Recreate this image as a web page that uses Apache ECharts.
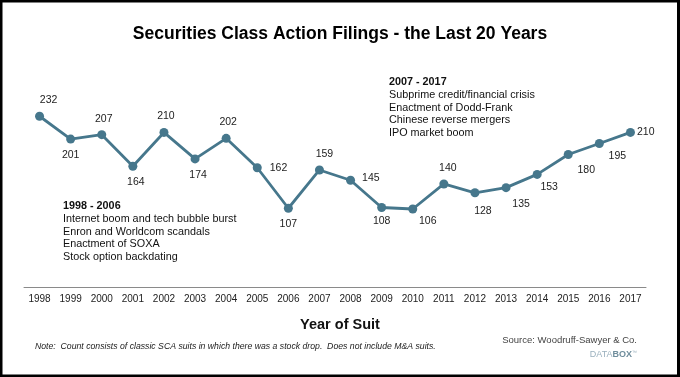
<!DOCTYPE html>
<html>
<head>
<meta charset="utf-8">
<script src="https://cdn.jsdelivr.net/npm/echarts@6/dist/echarts.min.js"></script>
<style>
html,body{margin:0;padding:0;background:#fff;}
#chart{width:680px;height:377px;}
</style>
</head>
<body>
<div id="chart"></div>
<script>
var years = ['1998','1999','2000','2001','2002','2003','2004','2005','2006','2007','2008','2009','2010','2011','2012','2013','2014','2015','2016','2017'];
var filings = [232,201,207,164,210,174,202,162,107,159,145,108,106,140,128,135,153,180,195,210];
var titleText = 'Securities Class Action Filings - the Last 20 Years';
var xAxisTitle = 'Year of Suit';
var era1 = ['1998 - 2006','Internet boom and tech bubble burst','Enron and Worldcom scandals','Enactment of SOXA','Stock option backdating'];
var era2 = ['2007 - 2017','Subprime credit/financial crisis','Enactment of Dodd-Frank','Chinese reverse mergers','IPO market boom'];
var noteText = 'Note:  Count consists of classic SCA suits in which there was a stock drop.  Does not include M&A suits.';
var sourceText = 'Source: Woodruff-Sawyer & Co.';

// label placement (style only): [position, dx, dy]
var labelPlace = [
  ['top',9,0],['bottom',0,0],['top',2,0],['bottom',3,0],['top',2,0],['bottom',3,0],['top',2,0],['right',2,0],
  ['bottom',0,0],['top',5,0],['right',1,-2],['bottom',0,-2],['bottom',15,-4],['top',4,0],['bottom',8,2],
  ['bottom',15,0],['bottom',12,-3],['bottom',18,0],['bottom',18,-3],['right',-4,0]
];

var FONT2 = "'Liberation Sans',Arial,sans-serif";
var lineColor = '#46778c';

var seriesData = filings.map(function(v,i){
  var p = labelPlace[i];
  return {value: v, label: {position: p[0], offset: [p[1], p[2]]}};
});

function textBlock(lines, x, y, lh){
  return lines.map(function(t,i){
    return {type:'text', left:x, top:y + i*lh, style:{text:t, fill:'#111', font:(i===0?'bold ':'')+'10.8px '+FONT2}};
  });
}

var graphics = [
  {type:'rect', shape:{x:0,y:0,width:680,height:377}, style:{fill:'none', stroke:'#000', lineWidth:5}, z:100},
  {type:'rect', shape:{x:677,y:0,width:3,height:377}, style:{fill:'#000'}, z:100},
  {type:'text', left:'center', top:317, style:{text:xAxisTitle, fill:'#111', font:'bold 14.5px '+FONT2}},
  {type:'text', left:35, top:342, style:{text:noteText, fill:'#222', font:'italic 8.7px '+FONT2}},
  {type:'text', right:43, top:335, style:{text:sourceText, fill:'#444', font:'9.5px '+FONT2, align:'right'}},
  {type:'text', right:43, top:350, style:{rich:{a:{fill:'#9ab0bd', font:'9px '+FONT2}, b:{fill:'#6f8d9c', font:'bold 9px '+FONT2}, c:{fill:'#9ab0bd', font:'5px '+FONT2, verticalAlign:'top'}}, text:'{a|DATA}{b|BOX}{c|™}'}}
].concat(textBlock(era1, 63, 201, 12.6)).concat(textBlock(era2, 389, 77, 12.6));

var chart = echarts.init(document.getElementById('chart'), null, {renderer:'canvas'});
chart.setOption({
  animation:false,
  backgroundColor:'#fff',
  title:{text:titleText, left:'center', top:20, textStyle:{fontFamily:FONT2, fontWeight:'bold', fontSize:17.5, color:'#000'}},
  grid:{left:24, right:34, top:103, bottom:90},
  xAxis:{type:'category', data:years, boundaryGap:true,
    axisLine:{lineStyle:{color:'#8a8a8a', width:1}},
    axisTick:{inside:true, length:4, lineStyle:{color:'#8a8a8a'}},
    axisLabel:{color:'#222', fontSize:10, fontFamily:FONT2, margin:7}},
  yAxis:{type:'value', min:0, max:250, show:false, splitLine:{show:false}},
  series:[{type:'line', data:seriesData, symbol:'circle', symbolSize:9,
    lineStyle:{color:lineColor, width:2.8}, itemStyle:{color:lineColor},
    label:{show:true, color:'#222', fontSize:10.5, fontFamily:FONT2, distance:6}}],
  graphic:graphics
});
</script>
</body>
</html>
